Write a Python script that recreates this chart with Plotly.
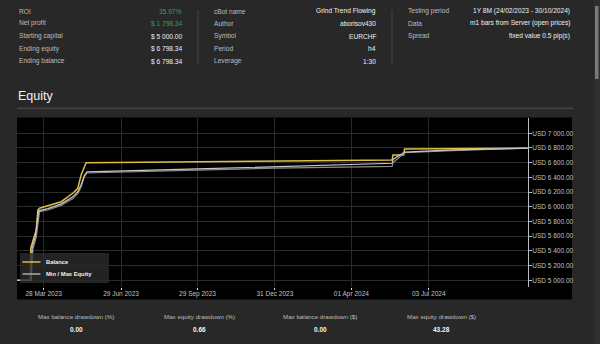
import plotly.graph_objects as go

# ---------------- data ----------------
balance_dates = ["2023-02-24", "2023-03-12", "2023-03-12 12:00", "2023-03-15", "2023-03-19",
                 "2023-03-21", "2023-03-23", "2023-04-18", "2023-05-02", "2023-05-08",
                 "2023-05-12", "2023-05-18", "2023-09-29", "2024-01-01", "2024-05-20",
                 "2024-05-21", "2024-06-03", "2024-06-04", "2024-10-30"]
balance_values = [5000, 5000, 5440, 5548, 5684,
                  5956, 5980, 6069, 6184, 6252,
                  6433, 6600, 6612, 6625, 6637,
                  6705, 6705, 6786, 6798]

min_eq_dates = ["2023-02-24", "2023-03-13", "2023-03-15", "2023-03-19", "2023-03-23",
                "2023-04-02", "2023-04-18", "2023-05-02", "2023-05-08", "2023-05-12",
                "2023-05-16", "2023-05-19", "2023-09-29", "2024-01-01", "2024-05-20",
                "2024-05-21", "2024-06-04", "2024-08-01", "2024-10-30"]
min_eq_values = [5000, 5000, 5420, 5584, 5933,
                 5956, 6020, 6111, 6180, 6270,
                 6410, 6460, 6500, 6525, 6550,
                 6600, 6735, 6765, 6798]

max_eq_dates = ["2023-02-24", "2023-03-13", "2023-03-14", "2023-03-18", "2023-03-22",
                "2023-04-02", "2023-04-18", "2023-05-02", "2023-05-08", "2023-05-12",
                "2023-05-16", "2023-05-19", "2023-09-29", "2024-01-01", "2024-05-20",
                "2024-05-21", "2024-06-04", "2024-08-01", "2024-10-30"]
max_eq_values = [5000, 5000, 5440, 5600, 5945,
                 5975, 6040, 6135, 6205, 6300,
                 6430, 6475, 6515, 6548, 6592,
                 6645, 6745, 6775, 6798]

x_tick_dates = ["2023-03-28", "2023-06-29", "2023-09-29", "2023-12-31", "2024-04-01", "2024-07-03"]
x_tick_labels = ["28 Mar 2023", "29 Jun 2023", "29 Sep 2023", "31 Dec 2023", "01 Apr 2024", "03 Jul 2024"]
y_tick_values = [5000, 5200, 5400, 5600, 5800, 6000, 6200, 6400, 6600, 6800, 7000]
y_tick_labels = ["USD " + f"{v:,.2f}".replace(",", " ") for v in y_tick_values]

legend_names = ["Balance", "Min / Max Equity"]

header_left_labels = ["ROI", "Net profit", "Starting capital", "Ending equity", "Ending balance"]
header_left_values = ["35.97%", "$ 1 798.34", "$ 5 000.00", "$ 6 798.34", "$ 6 798.34"]
header_mid_labels = ["cBot name", "Author", "Symbol", "Period", "Leverage"]
header_mid_values = ["Grind Trend Flowing", "aborisov430", "EURCHF", "h4", "1:30"]
header_right_labels = ["Testing period", "Data", "Spread"]
header_right_values = ["1Y 8M (24/02/2023 - 30/10/2024)", "m1 bars from Server (open prices)", "fixed value 0.5 pip(s)"]

footer_labels = ["Max balance drawdown (%)", "Max equity drawdown (%)", "Max balance drawdown ($)", "Max equity drawdown ($)"]
footer_values = ["0.00", "0.66", "0.00", "43.28"]

# ---------------- layout helpers ----------------
L, R, T, B = 17, 528, 118, 287
W, H = R - L, B - T


def px(x):
    return (x - L) / W


def py(y):
    return (B - y) / H


FONT = "Liberation Sans, Arial, sans-serif"
BG = "#282828"
YELLOW = "#dcbf45"
GREY_LO = "#8c8c8c"
GREY_HI = "#c8c8c8"

fig = go.Figure()
fig.add_trace(go.Scatter(x=balance_dates, y=balance_values, mode="lines", name=legend_names[0],
                         line=dict(color=YELLOW, width=1.5)))
fig.add_trace(go.Scatter(x=min_eq_dates, y=min_eq_values, mode="lines", name=legend_names[1],
                         legendgroup="eq", line=dict(color=GREY_LO, width=1.2)))
fig.add_trace(go.Scatter(x=max_eq_dates, y=max_eq_values, mode="lines", name="Max Equity",
                         legendgroup="eq", showlegend=False, line=dict(color=GREY_HI, width=1.2)))

shapes = []
# chart panel
shapes.append(dict(type="rect", xref="paper", yref="paper", x0=px(17), x1=px(572), y0=py(299.5), y1=py(117.5),
                   fillcolor="#000000", line=dict(width=0), layer="below"))
# separator under title
shapes.append(dict(type="line", xref="paper", yref="paper", x0=px(17), x1=px(573), y0=py(108.3), y1=py(108.3),
                   line=dict(color="#505050", width=1), layer="below"))
# header dividers
for xd in (198, 392):
    shapes.append(dict(type="line", xref="paper", yref="paper", x0=px(xd), x1=px(xd), y0=py(65), y1=py(10),
                       line=dict(color="#444444", width=1), layer="below"))
# scrollbar
shapes.append(dict(type="rect", xref="paper", yref="paper", x0=px(594), x1=px(600), y0=py(344), y1=py(0),
                   fillcolor="#2f2f2f", line=dict(width=0), layer="below"))
shapes.append(dict(type="rect", xref="paper", yref="paper", x0=px(595), x1=px(598.5), y0=py(79), y1=py(6),
                   fillcolor="#7a7a7a", line=dict(width=0), layer="below"))
# legend box and samples
shapes.append(dict(type="rect", xref="paper", yref="paper", x0=px(20), x1=px(109), y0=py(283), y1=py(253),
                   fillcolor="rgba(44,44,44,0.8)", line=dict(width=0), layer="above"))
legend_colors = [YELLOW, "#a8a8a8"]
legend_rows = [262, 274]
for c, ly in zip(legend_colors, legend_rows):
    shapes.append(dict(type="line", xref="paper", yref="paper", x0=px(22.5), x1=px(40.5), y0=py(ly), y1=py(ly),
                       line=dict(color=c, width=1.5), layer="above"))

annotations = []


def txt(x, y, s, anchor="left", color="#bdbdbd", size=8, bold=False):
    annotations.append(dict(xref="paper", yref="paper", x=px(x), y=py(y), text=(f"<b>{s}</b>" if bold else s),
                            showarrow=False, xanchor=anchor, yanchor="middle",
                            font=dict(family=FONT, size=size, color=color)))


HS = 6.6
row_y = [11, 23.5, 36, 48.5, 61]
for i, (lab, val) in enumerate(zip(header_left_labels, header_left_values)):
    txt(17, row_y[i], lab, size=HS)
    txt(184, row_y[i], val, anchor="right", color="#35a152" if i < 2 else "#f0f0f0", size=HS)
for i, (lab, val) in enumerate(zip(header_mid_labels, header_mid_values)):
    txt(212, row_y[i], lab, size=HS)
    txt(378, row_y[i], val, anchor="right", color="#f0f0f0", size=HS)
for i, (lab, val) in enumerate(zip(header_right_labels, header_right_values)):
    txt(406, row_y[i], lab, size=HS)
    txt(572, row_y[i], val, anchor="right", color="#f0f0f0", size=HS)

txt(16, 96, "Equity", color="#f2f2f2", size=12.5)

for name, ly in zip(legend_names, legend_rows):
    txt(44, ly, name, color="#f0f0f0", size=5.8, bold=True)

footer_x = [76, 199, 320, 441]
for fx, lab, val in zip(footer_x, footer_labels, footer_values):
    txt(fx, 316, lab, anchor="center", size=6.2)
    txt(fx, 329, val, anchor="center", color="#f5f5f5", size=6.5, bold=True)

fig.update_layout(
    width=600, height=344,
    margin=dict(l=L, r=600 - R, t=T, b=344 - B, pad=0),
    paper_bgcolor=BG, plot_bgcolor="#000000",
    font=dict(family=FONT, size=7, color="#bdbdbd"),
    shapes=shapes, annotations=annotations,
    showlegend=False,
    xaxis=dict(type="date", range=["2023-02-23 21:00", "2024-10-30 10:00"],
               tickvals=x_tick_dates, ticktext=x_tick_labels,
               showgrid=True, gridcolor="#2b2b2b", gridwidth=1, zeroline=False,
               showline=False, ticks="outside", ticklen=2, tickcolor="#dddddd",
               ticklabelstandoff=-2,
               tickfont=dict(family=FONT, size=6.5, color="#c0c0c0")),
    yaxis=dict(range=[4909, 7208], side="right",
               tickvals=y_tick_values, ticktext=y_tick_labels,
               showgrid=True, gridcolor="#2b2b2b", gridwidth=1, zeroline=False,
               showline=True, linecolor="#bbbbbb", linewidth=1,
               ticks="outside", ticklen=3, tickcolor="#bbbbbb",
               ticklabelstandoff=-1,
               tickfont=dict(family=FONT, size=6.5, color="#c0c0c0")),
)

fig.write_html("out.html")
